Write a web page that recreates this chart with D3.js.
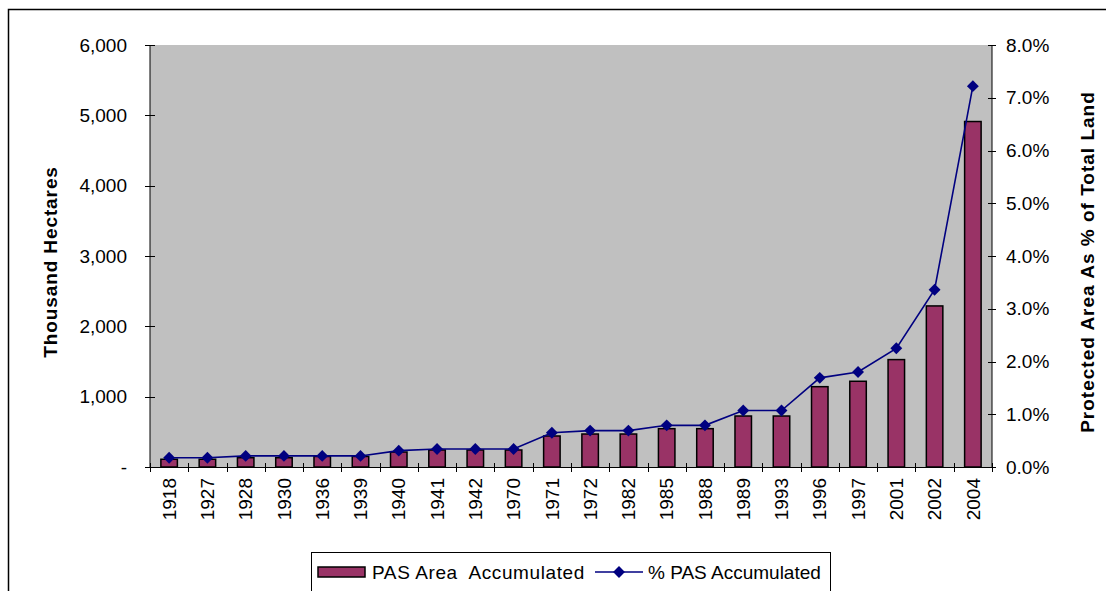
<!DOCTYPE html>
<html>
<head>
<meta charset="utf-8">
<script src="https://cdn.jsdelivr.net/npm/d3@7"></script>
<style>
  body { margin: 0; background: #fff; }
  svg text { font-family: "Liberation Sans", Arial, sans-serif; fill: #000; font-size: 19px; }
</style>
</head>
<body>
<svg id="chart" width="1106" height="591"></svg>
<script>
// data
const years = ['1918','1927','1928','1930','1936','1939','1940','1941','1942','1970','1971',
  '1972','1982','1985','1988','1989','1993','1996','1997','2001','2002','2004'];
const areaK = [110, 110, 132, 132, 150, 150, 213, 242, 242, 242, 441,
  469, 469, 545, 545, 725, 725, 1142, 1219, 1527, 2290, 4912];
const pctLand = [0.176, 0.176, 0.21, 0.21, 0.21, 0.21, 0.31, 0.34, 0.34, 0.34, 0.65,
  0.69, 0.69, 0.79, 0.79, 1.07, 1.07, 1.69, 1.80, 2.25, 3.36, 7.22];
const leftTicks = [0, 1000, 2000, 3000, 4000, 5000, 6000];
const rightTicks = [0, 1, 2, 3, 4, 5, 6, 7, 8];

const svg = d3.select('#chart');
const plot = { left: 150, right: 992, top: 45, bottom: 467 };

// outer chart frame (runs off the right and bottom edges)
svg.append('rect')
  .attr('x', 8.5).attr('y', 9.5)
  .attr('width', 1120).attr('height', 600)
  .attr('fill', '#fff')
  .attr('stroke', '#000').attr('stroke-width', 1.5);

const x = d3.scaleBand().domain(years).range([plot.left, plot.right]);
const yL = d3.scaleLinear().domain([0, 6000]).range([plot.bottom, plot.top]);
const yR = d3.scaleLinear().domain([0, 8]).range([plot.bottom, plot.top]);
const cx = (d) => x(d) + x.bandwidth() / 2;

// grey plot area
svg.append('rect')
  .attr('x', plot.left).attr('y', plot.top)
  .attr('width', plot.right - plot.left).attr('height', plot.bottom - plot.top)
  .attr('fill', '#c0c0c0');

// bars
const barW = 16.5;
svg.append('g').selectAll('rect')
  .data(years)
  .join('rect')
  .attr('x', (d) => cx(d) - barW / 2)
  .attr('y', (d, i) => yL(areaK[i]))
  .attr('width', barW)
  .attr('height', (d, i) => yL(0) - yL(areaK[i]))
  .attr('fill', '#993366')
  .attr('stroke', '#000').attr('stroke-width', 1.5);

// percentage line + diamonds
const line = d3.line()
  .x((d, i) => cx(years[i]))
  .y((d) => yR(d));

svg.append('path')
  .datum(pctLand)
  .attr('d', line)
  .attr('fill', 'none')
  .attr('stroke', '#000080').attr('stroke-width', 1.6);

const diamond = d3.symbol().type(d3.symbolDiamond2).size(90);
svg.append('g').selectAll('path')
  .data(pctLand)
  .join('path')
  .attr('transform', (d, i) => `translate(${cx(years[i])},${yR(d)})`)
  .attr('d', diamond)
  .attr('fill', '#000080');

// axes (cross tick marks, drawn by hand so they straddle the lines)
const axisColor = '#000';
const fmtLeft = (v) => v === 0 ? '-' : d3.format(',')(v);

const gL = svg.append('g');
gL.append('line')
  .attr('x1', plot.left).attr('x2', plot.left)
  .attr('y1', plot.top).attr('y2', plot.bottom)
  .attr('stroke', axisColor);
gL.selectAll('line.tick')
  .data(leftTicks)
  .join('line').attr('class', 'tick')
  .attr('x1', plot.left - 5).attr('x2', plot.left + 5)
  .attr('y1', (d) => Math.round(yL(d)) + 0.5).attr('y2', (d) => Math.round(yL(d)) + 0.5)
  .attr('stroke', axisColor);
gL.selectAll('text')
  .data(leftTicks)
  .join('text')
  .attr('x', 127).attr('y', (d) => yL(d))
  .attr('dy', '0.35em')
  .attr('text-anchor', 'end')
  .text(fmtLeft);

const gR = svg.append('g');
gR.append('line')
  .attr('x1', plot.right).attr('x2', plot.right)
  .attr('y1', plot.top).attr('y2', plot.bottom)
  .attr('stroke', axisColor);
gR.selectAll('line.tick')
  .data(rightTicks)
  .join('line').attr('class', 'tick')
  .attr('x1', plot.right - 4).attr('x2', plot.right + 4)
  .attr('y1', (d) => Math.round(yR(d)) + 0.5).attr('y2', (d) => Math.round(yR(d)) + 0.5)
  .attr('stroke', axisColor);
gR.selectAll('text')
  .data(rightTicks)
  .join('text')
  .attr('x', 1006).attr('y', (d) => yR(d))
  .attr('dy', '0.35em')
  .text((d) => d.toFixed(1) + '%');

const gX = svg.append('g');
gX.append('line')
  .attr('x1', plot.left - 5).attr('x2', plot.right + 4)
  .attr('y1', plot.bottom + 0.5).attr('y2', plot.bottom + 0.5)
  .attr('stroke', axisColor);
const edges = years.map((d) => x(d)).concat([plot.right]);
gX.selectAll('line.tick')
  .data(edges)
  .join('line').attr('class', 'tick')
  .attr('x1', (d) => Math.round(d) + 0.5).attr('x2', (d) => Math.round(d) + 0.5)
  .attr('y1', plot.bottom - 4).attr('y2', plot.bottom + 5)
  .attr('stroke', axisColor);
gX.selectAll('text')
  .data(years)
  .join('text')
  .attr('transform', (d) => `translate(${cx(d)},478) rotate(-90)`)
  .attr('dy', '0.35em')
  .attr('text-anchor', 'end')
  .text((d) => d);

// axis titles
svg.append('text')
  .attr('transform', 'translate(50,262) rotate(-90)')
  .attr('dy', '0.35em')
  .attr('text-anchor', 'middle')
  .style('font-weight', 'bold').style('letter-spacing', '0.9px')
  .text('Thousand Hectares');

svg.append('text')
  .attr('transform', 'translate(1087,262) rotate(-90)')
  .attr('dy', '0.35em')
  .attr('text-anchor', 'middle')
  .style('font-weight', 'bold').style('letter-spacing', '1px')
  .text('Protected Area As % of Total Land');

// legend
const lg = svg.append('g');
lg.append('rect')
  .attr('x', 311.5).attr('y', 552.5)
  .attr('width', 519).attr('height', 60)
  .attr('fill', '#fff')
  .attr('stroke', '#000').attr('stroke-width', 1);
lg.append('rect')
  .attr('x', 318).attr('y', 567)
  .attr('width', 47).attr('height', 10)
  .attr('fill', '#993366')
  .attr('stroke', '#000').attr('stroke-width', 1.5);
lg.append('text')
  .attr('x', 372).attr('y', 572).attr('dy', '0.35em')
  .style('white-space', 'pre').style('letter-spacing', '0.6px')
  .text('PAS Area  Accumulated');
lg.append('line')
  .attr('x1', 595).attr('x2', 643)
  .attr('y1', 572).attr('y2', 572)
  .attr('stroke', '#000080').attr('stroke-width', 1.6);
lg.append('path')
  .attr('transform', 'translate(619,572)')
  .attr('d', diamond)
  .attr('fill', '#000080');
lg.append('text')
  .attr('x', 648).attr('y', 572).attr('dy', '0.35em')
  .text('% PAS Accumulated');
</script>
</body>
</html>
